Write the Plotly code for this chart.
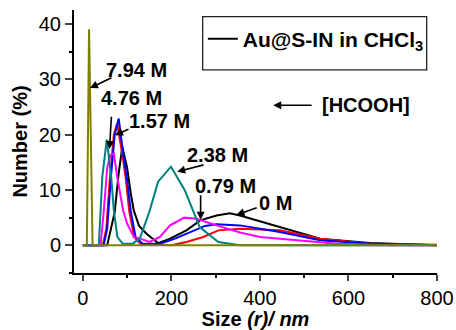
import plotly.graph_objects as go

# ---- data (size in nm, number %) ----
x_0M = [0, 55, 72, 80, 89, 100, 108, 115, 127, 144, 170, 197, 234, 265, 302, 332, 355, 445, 536, 648, 750, 800]
y_0M = [0, 0, 6.0, 12.4, 17.8, 14.0, 9.5, 6.3, 3.5, 2.1, 0.4, 1.2, 2.7, 4.5, 5.4, 5.8, 5.4, 3.3, 1.2, 0.4, 0.1, 0]

x_079M = [0, 45, 53, 61, 70, 77.5, 90, 97, 105, 116, 130, 200, 234, 272, 306, 355, 445, 536, 648, 723, 800]
y_079M = [0, 0, 3.0, 12.0, 20.0, 22.0, 16.0, 12.0, 6.0, 1.5, 0.3, 0, 0.6, 1.5, 2.7, 3.0, 2.7, 1.2, 0.3, 0.2, 0.1]

x_157M = [0, 47, 55, 63, 72, 81, 92, 99, 108, 119, 135, 174, 208, 242, 276, 302, 355, 445, 536, 648, 800]
y_157M = [0, 0, 3.0, 12.0, 20.0, 22.9, 16.0, 12.4, 6.3, 1.5, 0.3, 0.3, 1.2, 2.4, 3.5, 3.8, 3.6, 2.4, 0.9, 0.3, 0]

x_238M = [0, 36, 44, 54, 64, 70, 78, 90, 113, 129, 150, 170, 199, 230, 264, 306, 355, 800]
y_238M = [0, 0, 12.4, 19.1, 12.4, 6.3, 1.5, 0.3, 0.3, 1.3, 6.0, 11.5, 14.2, 10.0, 3.3, 0.6, 0, 0]

x_476M = [0, 40, 47, 55, 62, 70, 77.5, 91, 100, 115, 129, 151, 174, 197, 229, 257, 302, 355, 400, 497, 574, 700, 800]
y_476M = [0, 0, 6.0, 14.0, 16.3, 16.6, 12.4, 6.3, 3.9, 1.5, 1.2, 0.6, 1.5, 3.6, 5.0, 4.8, 3.6, 2.3, 1.5, 0.9, 0.3, 0, 0]

x_794M = [0, 9, 14, 22, 800]
y_794M = [0, 0, 39, 0, 0]

series_names = ["Au@S-IN in CHCl<sub>3</sub>", "0.79 M", "1.57 M", "2.38 M", "4.76 M", "7.94 M"]
series_colors = ["#000000", "#ff0000", "#0000ff", "#008080", "#ff00ff", "#808000"]
draw_order = [0, 1, 2, 4, 3, 5]

xs = [x_0M, x_079M, x_157M, x_238M, x_476M, x_794M]
ys = [y_0M, y_079M, y_157M, y_238M, y_476M, y_794M]

x_ticks = [0, 200, 400, 600, 800]
y_ticks = [0, 10, 20, 30, 40]

# annotation labels: (text, text_x, text_y, tail_x, tail_y, tip_x, tip_y)
labels = [
    ("7.94 M", 121, 31.7, 68, 30.4, 16, 28.4),
    ("4.76 M", 109, 26.6, 64.7, 23.5, 60.2, 17.4),
    ("1.57 M", 174, 22.5, 106.5, 21.1, 72.6, 19.9),
    ("2.38 M", 304, 16.4, 276, 14.6, 213, 13.3),
    ("0.79 M", 322, 10.7, 266, 9.3, 266, 4.6),
    ("0 M", 436, 7.6, 396, 6.9, 347, 5.5),
    ("[HCOOH]", 640, 25.3, 520, 25.3, 430, 25.3),
]

FONT = "Liberation Sans, Arial, sans-serif"

fig = go.Figure()
for i in draw_order:
    fig.add_trace(go.Scatter(
        x=xs[i], y=ys[i], mode="lines", name=series_names[i],
        line=dict(color=series_colors[i], width=2),
        showlegend=(i == 0),
    ))

annotations = []
for text, tx, ty, ax, ay, px, py in labels:
    annotations.append(dict(
        x=tx, y=ty, xref="x", yref="y", text="<b>%s</b>" % text, showarrow=False,
        font=dict(size=20, color="black", family=FONT),
    ))
    annotations.append(dict(
        x=px, y=py, xref="x", yref="y", ax=ax, ay=ay, axref="x", ayref="y",
        text="", showarrow=True, arrowhead=2, arrowsize=1, arrowwidth=1.6,
        arrowcolor="black", standoff=0, startstandoff=0,
    ))

fig.update_layout(
    width=456, height=330,
    margin=dict(l=74, r=19, t=10, b=57, autoexpand=False),
    paper_bgcolor="white", plot_bgcolor="white",
    font=dict(family=FONT, size=20, color="black"),
    showlegend=True,
    legend=dict(
        x=0.355, y=0.889, xanchor="left", yanchor="middle",
        bgcolor="rgba(0,0,0,0)", borderwidth=0,
        font=dict(size=21, family=FONT, color="black", weight="bold"),
        itemwidth=30,
    ),
    shapes=[dict(type="rect", xref="paper", yref="paper",
                 x0=0.3545, x1=0.9716, y0=0.772, y1=0.9745,
                 line=dict(color="#222222", width=1.3), fillcolor="rgba(0,0,0,0)")],
    annotations=annotations,
    xaxis=dict(
        range=[-20, 800], tickvals=x_ticks, ticks="outside", ticklen=6, tickwidth=2,
        showline=True, linewidth=2, linecolor="black", showgrid=False, zeroline=False,
        automargin=False,
        minor=dict(dtick=100, tick0=0, ticks="outside", ticklen=3, tickwidth=2, tickcolor="black"),
        title=dict(text="<b>Size <i>(r)/ nm</i></b>", font=dict(size=20), standoff=8),
        tickfont=dict(size=20),
    ),
    yaxis=dict(
        range=[-5, 42.5], tickvals=y_ticks, ticks="outside", ticklen=7, tickwidth=2,
        showline=True, linewidth=2, linecolor="black", showgrid=False, zeroline=False,
        automargin=False,
        minor=dict(dtick=5, tick0=0, ticks="outside", ticklen=3, tickwidth=2, tickcolor="black"),
        title=dict(text="<b>Number (%)</b>", font=dict(size=20), standoff=6),
        tickfont=dict(size=20),
    ),
)

fig.write_html("out.html", config={"displayModeBar": False},
               post_script="document.body.style.margin='0';document.body.style.overflow='hidden';")
